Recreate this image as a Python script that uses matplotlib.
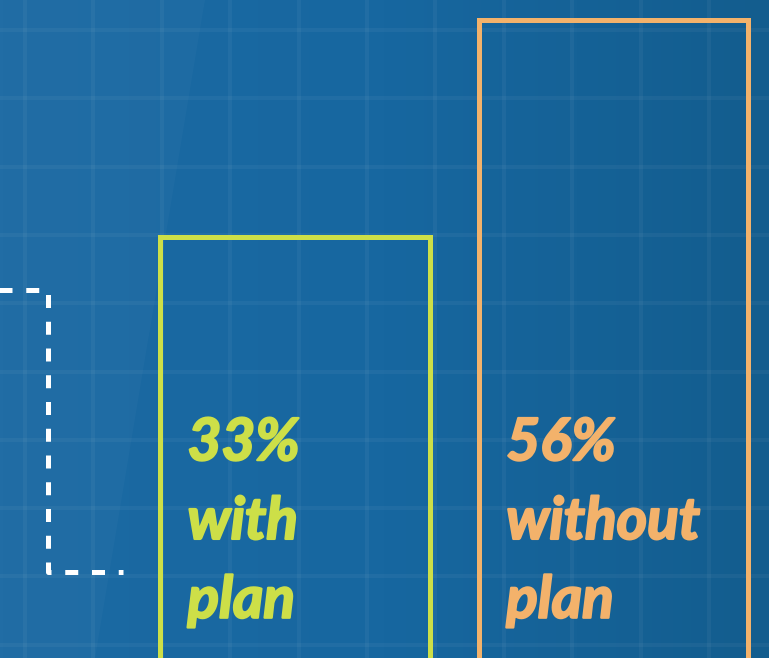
import numpy as np
import matplotlib
matplotlib.use("Agg")
import matplotlib.pyplot as plt
import matplotlib.patheffects as pe
from matplotlib import font_manager

# -----------------------------------------
# Data
# -----------------------------------------
labels = ["with\nplan", "without\nplan"]
values = [33, 56]
bar_x = [1, 2]
bar_colors = ["#cddf48", "#f3b26b"]

# dashed bracket on the left (data units)
bracket_x = [0.0, 0.225, 0.225, 0.46]
bracket_y = [27.45, 27.45, -2.37, -2.37]

label_y = 14.0

# -----------------------------------------
# Pick a font
# -----------------------------------------
names = {f.name for f in font_manager.fontManager.ttflist}
font = "Lato" if "Lato" in names else "DejaVu Sans"

fig = plt.figure(figsize=(7.69, 6.58), dpi=100)

# background: gradient + faint grid
bg = fig.add_axes([0, 0, 1, 1])
grad = np.linspace(0, 1, 256)[None, :]
cmap = matplotlib.colors.LinearSegmentedColormap.from_list(
    "bg", ["#1c6aa3", "#1767a0", "#135d8e"])
bg.imshow(grad, aspect="auto", cmap=cmap, extent=[0, 769, 658, 0])
bg.fill([0, 205, 95, 0], [0, 0, 658, 658], color="white", alpha=0.025, lw=0)
bg.set_xlim(0, 769)
bg.set_ylim(658, 0)
bg.set_xticks(np.arange(25, 769, 68.4))
bg.set_yticks(np.arange(30, 658, 68.3))
bg.grid(True, color="white", alpha=0.045, lw=3)
bg.tick_params(length=0, labelbottom=False, labelleft=False)
for s in bg.spines.values():
    s.set_visible(False)

# main axes
ax = fig.add_axes([0, 0, 1, 1])
ax.patch.set_alpha(0)
ax.set_xlim(0.0745, 2.487)
ax.set_ylim(-11.47, 58.11)
ax.axis("off")

width = 0.844
ax.bar(bar_x, [v + 30 for v in values], bottom=-30, width=width,
       fill=False, edgecolor=bar_colors, linewidth=3.6)

ax.plot(bracket_x, bracket_y, color="white", lw=3.6,
        linestyle=(0, (2.6, 2.75)), solid_capstyle="butt")

for x, v, lab, c in zip(bar_x, values, labels, bar_colors):
    ax.text(x - width / 2 + 0.085, label_y, f"{v}%\n{lab}",
            color=c, fontsize=42, fontweight="bold", fontstyle="italic",
            family=font, ha="left", va="top", linespacing=1.6,
            path_effects=[pe.withStroke(linewidth=1.6, foreground=c)])

fig.savefig("out.png", dpi=100)
